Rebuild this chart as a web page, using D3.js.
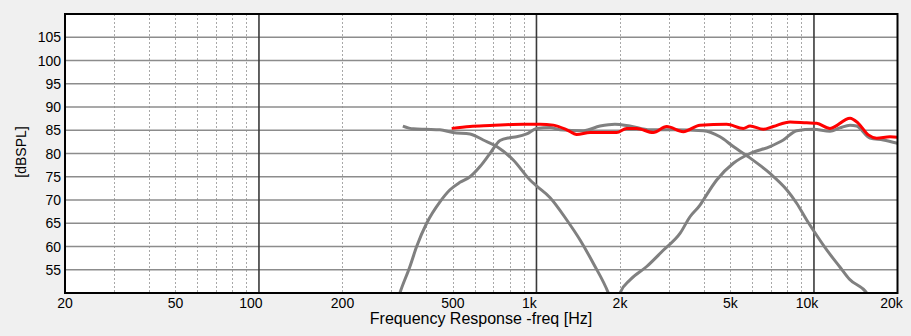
<!DOCTYPE html>
<html>
<head>
<meta charset="utf-8">
<script src="https://cdn.jsdelivr.net/npm/d3@7"></script>
<style>
  html, body { margin: 0; padding: 0; background: #f0f0f0; }
  svg { display: block; }
  text { font-family: "Liberation Sans", Arial, sans-serif; fill: #000; }
</style>
</head>
<body>
<svg id="chart" width="911" height="336"></svg>
<script>
// Frequency response: woofer, midrange, tweeter and summed output
const freqTicks = [20, 50, 100, 200, 500, 1000, 2000, 5000, 10000, 20000];
const freqTickLabels = ["20", "50", "100", "200", "500", "1k", "2k", "5k", "10k", "20k"];
const splTicks = [55, 60, 65, 70, 75, 80, 85, 90, 95, 100, 105];

// [frequency Hz, dBSPL]
const woofer = [[330,85.9],[360,85.3],[400,85.2],[449,85.1],[500,84.5],[576,84.2],[643,82.9],[719,81.5],
  [825,78.6],[948,74.3],[1002,73.0],[1120,70.5],[1286,65.7],[1436,61.4],[1602,56.4],[1816,50.0],[1830,49.5]];
const midrange = [[320,49.5],[322,50],[350,55.7],[370,60],[402,65],[449,69.6],[488,72.2],[530,73.8],[576,75],
  [626,77.2],[680,80],[739,82.8],[800,83.4],[848,83.6],[922,84.2],[1002,85.4],[1119,85.6],[1216,85.1],
  [1476,84.9],[1694,85.9],[1918,86.3],[2172,85.9],[2566,85.1],[3112,85.1],[3993,84.9],[4587,83.6],
  [5122,81.5],[5800,79.3],[6944,75.7],[7974,72.2],[8664,69.3],[9414,65.7],[9946,63.5],[11200,59],
  [12400,55.6],[13400,53],[15500,50],[15700,49.5]];
const tweeter = [[1990,49.5],[2000,50],[2172,52.8],[2496,55.7],[2864,59.2],[3290,62.8],[3575,66.4],[3884,68.9],
  [3993,70],[4461,74.3],[5122,77.9],[5882,80],[6944,81.5],[7754,82.9],[8664,84.9],[9946,85.2],
  [11424,84.8],[12400,85.5],[13490,86.1],[14254,85.9],[15920,83.3],[17780,82.9],[20000,82.2]];
const total = [[495,85.4],[576,85.8],[680,86.0],[897,86.3],[1030,86.3],[1150,86.1],[1286,85.1],[1396,84.1],
  [1560,84.5],[1790,84.5],[1945,84.5],[2114,85.4],[2296,85.4],[2636,84.5],[2946,85.8],[3382,84.7],
  [3884,86.1],[4846,86.3],[5564,85.4],[5882,85.9],[6570,85.2],[7136,85.8],[8198,86.8],[9414,86.6],
  [10226,86.5],[11424,85.4],[13490,87.6],[14448,86.5],[15700,84.0],[16830,83.3],[18790,83.6],[20000,83.5]];

const plotLeft = 65, plotRight = 897.5, plotTop = 14, plotBottom = 293;
const svg = d3.select("#chart");

const x = d3.scaleLog().domain([20, 20000]).range([plotLeft, plotRight]);
const y = d3.scaleLinear().domain([50, 110]).range([plotBottom, plotTop]);

// plot background
svg.append("rect").attr("x", plotLeft).attr("y", plotTop)
  .attr("width", plotRight - plotLeft).attr("height", plotBottom - plotTop).attr("fill", "#fff");

// minor (dotted) vertical grid
const minor = [];
[10, 100, 1000, 10000].forEach(d => { for (let k = 2; k <= 9; k++) minor.push(d * k); });
const minorLines = minor.filter(f => f > 20 && f < 20000);
svg.append("g").selectAll("line").data(minorLines).join("line")
  .attr("x1", d => Math.round(x(d)) + 0.5).attr("x2", d => Math.round(x(d)) + 0.5)
  .attr("y1", plotTop).attr("y2", plotBottom)
  .attr("stroke", "#a8a8a8").attr("stroke-width", 1).attr("stroke-dasharray", "2,2");

// horizontal grid
svg.append("g").selectAll("line").data(splTicks).join("line")
  .attr("x1", plotLeft).attr("x2", plotRight)
  .attr("y1", d => y(d)).attr("y2", d => y(d))
  .attr("stroke", "#8c8c8c").attr("stroke-width", 1.6);

// decade lines
svg.append("g").selectAll("line").data([100, 1000, 10000]).join("line")
  .attr("x1", d => x(d)).attr("x2", d => x(d))
  .attr("y1", plotTop).attr("y2", plotBottom)
  .attr("stroke", "#3a3a3a").attr("stroke-width", 1.6);

// curves
svg.append("clipPath").attr("id", "plotClip").append("rect")
  .attr("x", plotLeft).attr("y", plotTop).attr("width", plotRight - plotLeft).attr("height", plotBottom - plotTop);

const line = d3.line().x(d => x(d[0])).y(d => y(d[1])).curve(d3.curveMonotoneX);
const curves = svg.append("g").attr("clip-path", "url(#plotClip)");
[woofer, midrange, tweeter].forEach(s => {
  curves.append("path").attr("d", line(s)).attr("fill", "none")
    .attr("stroke", "#808080").attr("stroke-width", 3).attr("stroke-linejoin", "round");
});
curves.append("path").attr("d", line(total)).attr("fill", "none")
  .attr("stroke", "#ff0000").attr("stroke-width", 3).attr("stroke-linejoin", "round");

// frame
svg.append("rect").attr("x", plotLeft).attr("y", plotTop)
  .attr("width", plotRight - plotLeft).attr("height", plotBottom - plotTop)
  .attr("fill", "none").attr("stroke", "#000").attr("stroke-width", 2);

// y axis labels
svg.append("g").selectAll("text").data(splTicks).join("text")
  .attr("x", plotLeft - 4).attr("y", d => y(d)).attr("dy", "0.36em")
  .attr("text-anchor", "end").attr("font-size", 14).text(d => d);

// x axis labels
const offsets = {100: -8, 1000: -7, 10000: -7, 20000: -6};
svg.append("g").selectAll("text").data(freqTicks).join("text")
  .attr("x", d => x(d) + (offsets[d] || 0)).attr("y", 308)
  .attr("text-anchor", "middle").attr("font-size", 14)
  .text((d, i) => freqTickLabels[i]);

svg.append("text").attr("x", 481).attr("y", 324).attr("text-anchor", "middle")
  .attr("font-size", 16).text("Frequency Response -freq [Hz]");

svg.append("text").attr("transform", "translate(26,152) rotate(-90)")
  .attr("text-anchor", "middle").attr("font-size", 14).text("[dBSPL]");
</script>
</body>
</html>
